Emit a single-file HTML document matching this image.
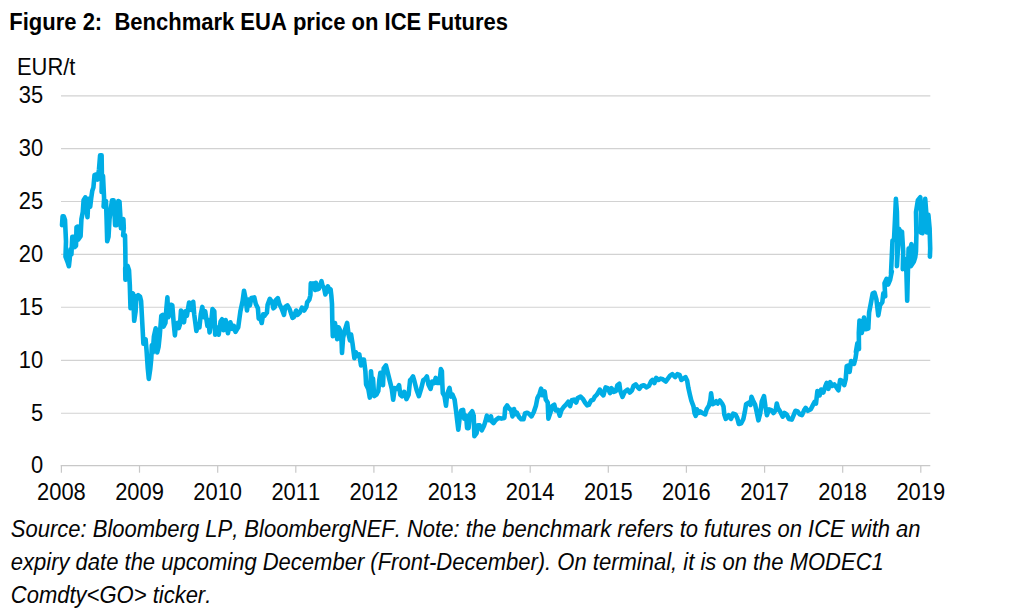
<!DOCTYPE html>
<html><head><meta charset="utf-8"><title>Figure 2</title>
<style>
html,body{margin:0;padding:0;background:#fff;}
body{width:1024px;height:615px;overflow:hidden;position:relative;font-family:"Liberation Sans",sans-serif;color:#050505;font-kerning:none;}
.t{position:absolute;white-space:nowrap;}
.t,#src span{transform:scaleY(1.07);transform-origin:50% 50%;}
#unit,.yl,.xl{transform:scaleY(1.09);transform-origin:50% 50%;}
#title{left:9.3px;top:10px;color:#000;font-size:22px;font-weight:bold;line-height:26px;}
#unit{left:17px;top:53.8px;font-size:21.9px;line-height:26px;}
.yl{position:absolute;left:0;width:43.2px;text-align:right;font-size:21.9px;line-height:26px;}
.xl{position:absolute;width:80px;text-align:center;font-size:21.9px;line-height:26px;top:478.7px;}
#src span{display:block;height:33px;}
#src{position:absolute;left:10.8px;top:511.5px;font-size:22px;font-style:italic;line-height:33px;white-space:nowrap;}
svg{position:absolute;left:0;top:0;}
</style></head><body>
<svg width="1024" height="615" viewBox="0 0 1024 615">
<g stroke="#d2d2d2" stroke-width="1.15" fill="none">
<line x1="61" y1="95.8" x2="930.3" y2="95.8"/>
<line x1="61" y1="148.65" x2="930.3" y2="148.65"/>
<line x1="61" y1="201.5" x2="930.3" y2="201.5"/>
<line x1="61" y1="254.4" x2="930.3" y2="254.4"/>
<line x1="61" y1="307.25" x2="930.3" y2="307.25"/>
<line x1="61" y1="360.4" x2="930.3" y2="360.4"/>
<line x1="61" y1="413.2" x2="930.3" y2="413.2"/>
</g>
<g stroke="#c8c8c8" stroke-width="1.2" fill="none">
<line x1="60.7" y1="465.65" x2="930.3" y2="465.65"/>
<line x1="61.4" y1="465.65" x2="61.4" y2="472.7"/>
<line x1="139.5" y1="465.65" x2="139.5" y2="472.7"/>
<line x1="217.7" y1="465.65" x2="217.7" y2="472.7"/>
<line x1="295.8" y1="465.65" x2="295.8" y2="472.7"/>
<line x1="373.9" y1="465.65" x2="373.9" y2="472.7"/>
<line x1="452.0" y1="465.65" x2="452.0" y2="472.7"/>
<line x1="530.2" y1="465.65" x2="530.2" y2="472.7"/>
<line x1="608.3" y1="465.65" x2="608.3" y2="472.7"/>
<line x1="686.4" y1="465.65" x2="686.4" y2="472.7"/>
<line x1="764.6" y1="465.65" x2="764.6" y2="472.7"/>
<line x1="842.7" y1="465.65" x2="842.7" y2="472.7"/>
<line x1="920.8" y1="465.65" x2="920.8" y2="472.7"/>
</g>
<path d="M62.0 225.2 L62.6 216.4 L63.8 216.4 L65.0 220.0 L66.0 241.3 L65.5 256.6 L67.5 261.8 L68.9 266.2 L69.7 258.9 L70.4 249.3 L71.4 254.4 L72.3 236.9 L73.8 236.9 L74.8 247.1 L76.0 245.7 L76.5 227.3 L77.7 226.6 L78.1 239.8 L80.6 236.1 L81.4 219.3 L82.8 212.0 L83.6 200.2 L85.3 197.3 L86.5 209.0 L87.5 217.1 L88.4 198.8 L90.2 206.8 L91.3 197.3 L92.3 190.7 L93.4 187.6 L94.5 175.2 L96.3 174.4 L97.5 179.6 L99.0 169.3 L100.1 155.4 L101.6 155.4 L101.9 175.2 L101.6 192.0 L103.0 175.9 L104.1 198.6 L103.6 206.7 L106.0 201.0 L106.6 219.3 L107.2 241.3 L108.5 236.9 L109.5 219.3 L110.7 209.0 L112.1 200.2 L113.6 200.2 L114.3 209.0 L115.1 225.2 L116.5 225.2 L117.3 209.0 L118.3 201.0 L119.5 201.7 L120.2 213.4 L120.9 228.1 L121.7 220.8 L123.4 219.3 L123.8 228.1 L123.1 235.4 L125.0 235.4 L125.3 248.6 L125.5 266.2 L125.2 268.8 L125.4 279.8 L126.8 279.0 L127.6 265.9 L129.0 270.2 L129.8 284.9 L130.5 308.3 L132.0 293.0 L133.1 293.7 L134.2 320.8 L135.6 311.3 L136.4 296.6 L138.1 295.2 L140.0 296.6 L141.1 301.0 L142.2 321.5 L143.4 343.7 L145.6 339.3 L146.6 351.0 L147.8 368.6 L148.8 378.9 L150.3 368.6 L151.3 358.3 L151.8 345.2 L152.8 352.5 L153.9 336.4 L155.7 328.3 L157.2 352.5 L158.6 346.6 L159.8 334.9 L161.3 315.9 L162.7 314.9 L163.5 326.6 L165.4 323.0 L166.4 308.3 L167.4 297.4 L168.3 317.1 L169.8 314.2 L170.8 304.7 L172.3 305.4 L173.7 323.0 L174.9 335.4 L175.9 324.4 L177.4 323.0 L178.8 328.1 L180.0 324.4 L181.0 310.5 L182.5 315.7 L184.0 322.3 L185.4 311.3 L186.9 315.7 L189.1 302.5 L191.3 309.8 L193.2 301.8 L194.2 314.2 L196.4 331.0 L197.9 324.4 L199.4 327.4 L200.8 314.2 L202.3 306.9 L203.8 317.1 L205.2 311.3 L207.4 325.9 L208.4 320.1 L209.6 332.5 L211.1 323.0 L212.5 309.1 L214.3 311.3 L215.2 334.7 L216.9 327.4 L218.7 334.7 L220.6 321.5 L222.1 319.3 L223.5 330.3 L225.7 320.1 L227.9 333.2 L230.4 322.3 L232.3 328.9 L233.8 325.9 L235.5 331.8 L238.2 327.4 L240.4 311.3 L242.6 301.0 L244.0 290.8 L245.5 298.1 L247.0 310.5 L248.4 299.6 L249.9 305.4 L251.4 298.1 L254.3 297.4 L255.8 303.9 L257.9 308.3 L258.7 318.6 L260.2 317.9 L261.7 323.0 L263.2 314.2 L264.6 315.7 L266.9 312.7 L267.6 304.7 L269.8 298.8 L272.0 301.8 L273.4 308.3 L274.9 306.9 L275.6 300.3 L277.8 298.1 L279.3 303.9 L281.5 308.3 L284.0 314.9 L285.2 306.9 L287.4 305.4 L289.6 309.1 L292.5 317.9 L293.9 317.1 L296.1 310.5 L297.6 314.9 L299.8 312.7 L302.0 307.6 L304.2 310.5 L306.4 306.9 L307.1 302.5 L309.3 299.6 L310.4 295.2 L310.8 283.4 L312.3 288.6 L313.3 283.4 L315.2 290.0 L315.9 282.7 L317.4 289.3 L318.9 288.6 L320.3 284.9 L321.5 281.2 L322.5 285.6 L324.0 287.8 L325.4 294.4 L326.9 288.6 L327.9 286.4 L329.1 291.5 L330.6 289.3 L331.3 295.2 L332.0 303.9 L332.3 321.5 L332.8 336.2 L334.2 334.7 L335.0 323.0 L336.1 330.3 L337.2 339.1 L338.6 327.4 L340.1 330.3 L341.6 342.0 L342.0 353.0 L343.1 337.6 L344.9 330.2 L347.1 322.9 L348.6 334.6 L350.0 340.5 L351.1 334.6 L352.5 343.4 L354.4 358.1 L355.9 352.2 L357.8 355.9 L359.3 354.4 L361.0 365.4 L362.5 359.6 L363.9 359.6 L365.4 371.3 L366.1 384.4 L368.3 388.9 L369.8 397.6 L371.0 371.3 L372.0 383.0 L373.0 378.6 L374.2 396.2 L376.4 394.7 L378.3 391.0 L379.3 380.1 L380.4 372.7 L381.8 375.7 L383.0 385.2 L383.7 368.3 L385.9 365.4 L387.4 371.3 L389.6 380.1 L391.8 388.9 L393.2 399.8 L394.7 388.1 L396.9 388.9 L399.1 385.2 L400.3 394.7 L402.0 396.2 L404.2 391.8 L406.4 399.1 L408.6 394.7 L410.1 380.1 L411.6 378.6 L413.0 376.4 L414.5 381.5 L416.7 390.3 L418.9 396.2 L421.1 388.9 L423.3 380.1 L425.5 378.6 L426.9 376.4 L428.4 384.4 L430.6 388.9 L432.1 381.5 L434.3 383.0 L435.7 377.9 L437.2 383.0 L439.4 383.0 L440.9 369.1 L441.9 371.3 L442.3 383.0 L442.8 393.2 L444.5 396.2 L446.0 405.7 L447.1 394.7 L447.3 393.7 L449.5 387.8 L451.0 396.6 L452.4 394.4 L454.6 399.6 L456.1 411.3 L457.3 421.5 L458.3 429.6 L459.8 417.1 L461.2 410.5 L463.1 409.8 L464.2 418.6 L466.1 415.7 L467.1 428.1 L468.6 428.1 L470.0 414.2 L472.2 411.3 L473.7 415.7 L474.4 436.2 L476.6 433.2 L477.8 425.2 L479.6 425.2 L481.8 430.3 L483.9 425.9 L485.4 421.5 L486.9 415.7 L489.1 420.1 L491.0 416.4 L492.0 421.5 L493.5 423.0 L495.7 420.1 L498.6 417.9 L501.5 418.6 L504.4 417.9 L505.2 408.3 L507.1 405.4 L508.9 408.3 L511.0 409.8 L512.5 416.4 L514.0 409.1 L515.4 414.2 L516.9 412.7 L519.1 417.1 L521.3 419.3 L523.5 419.3 L525.0 413.5 L527.2 412.7 L529.4 414.2 L531.5 416.4 L533.8 412.0 L536.0 405.4 L537.4 398.1 L539.6 393.7 L541.1 388.6 L542.5 395.2 L544.7 391.5 L545.8 399.6 L547.7 402.5 L548.4 418.6 L550.6 412.0 L552.1 406.1 L554.3 404.7 L555.7 410.5 L557.9 409.8 L559.8 415.7 L561.6 409.8 L563.8 406.9 L566.0 404.7 L568.2 401.8 L570.1 406.1 L571.8 400.3 L574.0 399.6 L576.2 402.5 L577.7 398.1 L580.6 396.6 L582.8 398.8 L585.0 402.5 L587.2 405.4 L588.8 404.9 L591.0 400.5 L593.2 399.8 L594.6 396.9 L596.9 394.7 L599.8 389.6 L602.0 393.9 L603.4 395.4 L605.6 387.4 L607.8 388.1 L610.0 393.2 L611.5 388.1 L613.7 391.8 L615.9 391.0 L617.4 385.2 L619.3 383.7 L620.3 391.0 L622.5 396.9 L624.7 391.8 L627.6 389.6 L629.8 392.5 L632.0 390.3 L633.5 385.9 L635.7 384.4 L637.9 387.4 L639.3 388.8 L641.5 385.9 L643.7 385.2 L646.6 387.4 L648.9 385.9 L651.0 381.5 L652.5 380.0 L654.4 383.0 L656.2 377.8 L658.4 380.0 L660.6 378.6 L662.8 379.3 L665.7 381.5 L667.9 378.6 L670.1 375.6 L672.3 374.2 L675.2 377.1 L677.4 374.2 L679.6 374.9 L681.4 380.0 L683.3 378.6 L685.5 377.1 L687.2 380.8 L688.4 388.1 L689.9 394.7 L691.3 400.5 L693.5 406.4 L694.5 413.0 L695.7 415.9 L696.9 409.3 L698.6 413.0 L700.1 411.5 L702.3 413.0 L705.2 414.4 L706.7 409.3 L708.9 405.7 L710.4 399.8 L711.1 393.2 L712.6 404.2 L714.0 403.5 L716.2 401.3 L717.7 403.5 L719.9 400.5 L722.1 403.5 L723.5 406.4 L724.3 414.4 L725.8 418.9 L728.0 416.6 L728.8 415.2 L731.0 418.9 L733.2 413.7 L735.4 414.4 L737.3 418.1 L738.8 424.0 L741.2 423.2 L743.4 418.9 L744.9 411.5 L746.1 404.2 L748.6 402.7 L750.5 404.9 L751.5 396.9 L753.0 400.5 L755.2 404.9 L756.6 411.5 L758.4 420.3 L760.3 413.0 L761.8 401.3 L764.0 396.1 L765.4 406.4 L766.9 415.2 L769.1 409.3 L771.3 410.1 L773.5 413.0 L775.7 410.1 L776.8 403.5 L777.9 407.9 L780.1 411.5 L782.7 416.6 L784.5 413.0 L786.6 414.4 L788.9 418.9 L791.8 419.6 L794.0 414.4 L795.4 410.8 L797.6 411.5 L799.8 414.4 L802.0 415.2 L804.2 410.1 L805.7 407.9 L807.9 410.8 L810.8 409.3 L813.0 404.9 L814.5 402.0 L816.0 403.5 L817.4 391.0 L819.6 395.4 L821.1 389.6 L823.3 392.5 L825.2 386.6 L826.6 383.0 L828.4 388.8 L830.2 382.2 L832.1 385.9 L834.3 384.4 L836.5 387.4 L838.4 390.3 L840.1 380.0 L842.3 380.8 L844.2 385.2 L845.7 379.3 L846.7 366.1 L848.6 365.4 L849.6 372.0 L851.1 361.0 L853.0 363.2 L854.0 363.9 L855.5 358.1 L856.5 351.5 L855.9 352.0 L857.4 343.2 L859.0 349.1 L858.8 333.0 L859.5 320.5 L861.8 333.0 L864.0 317.6 L865.7 329.3 L868.3 328.6 L869.1 312.5 L870.5 305.2 L872.7 293.4 L874.5 292.7 L876.4 299.3 L878.3 315.4 L880.1 305.2 L882.3 302.2 L883.3 293.4 L885.2 296.4 L884.5 283.2 L886.6 278.8 L888.1 284.6 L890.0 280.2 L891.8 271.5 L891.0 273.5 L891.8 255.9 L892.5 240.5 L894.0 239.8 L895.0 219.3 L895.9 198.8 L896.9 212.0 L897.3 233.9 L896.9 266.2 L898.4 241.3 L899.1 228.8 L900.6 232.5 L902.0 231.8 L903.2 251.5 L902.8 269.1 L905.0 258.9 L906.4 272.0 L907.2 300.8 L907.9 272.0 L908.6 248.6 L909.6 251.5 L911.5 244.2 L912.3 251.5 L910.8 266.2 L913.8 261.8 L915.2 257.4 L916.0 251.5 L916.4 233.9 L916.0 212.0 L917.9 200.2 L920.3 197.3 L921.1 212.0 L920.8 232.5 L922.5 233.2 L924.0 219.3 L925.2 198.8 L926.2 212.0 L926.9 232.5 L928.4 214.9 L929.6 228.1 L930.2 248.6 L929.9 256.6" fill="none" stroke="#00ade5" stroke-width="4.6" stroke-linejoin="round" stroke-linecap="round"/>
</svg>
<div class="t" id="title">Figure 2:&nbsp; Benchmark EUA price on ICE Futures</div>
<div class="t" id="unit">EUR/t</div>
<div class="yl" style="top:82.2px">35</div>
<div class="yl" style="top:135.1px">30</div>
<div class="yl" style="top:187.9px">25</div>
<div class="yl" style="top:240.8px">20</div>
<div class="yl" style="top:293.6px">15</div>
<div class="yl" style="top:346.8px">10</div>
<div class="yl" style="top:399.6px">5</div>
<div class="yl" style="top:452.3px">0</div>
<div class="xl" style="left:21.4px">2008</div>
<div class="xl" style="left:99.5px">2009</div>
<div class="xl" style="left:177.7px">2010</div>
<div class="xl" style="left:255.8px">2011</div>
<div class="xl" style="left:333.9px">2012</div>
<div class="xl" style="left:412.0px">2013</div>
<div class="xl" style="left:490.2px">2014</div>
<div class="xl" style="left:568.3px">2015</div>
<div class="xl" style="left:646.4px">2016</div>
<div class="xl" style="left:724.6px">2017</div>
<div class="xl" style="left:802.7px">2018</div>
<div class="xl" style="left:880.8px">2019</div>
<div id="src"><span>Source: Bloomberg LP, BloombergNEF. Note: the benchmark refers to futures on ICE with an</span><span>expiry date the upcoming December (Front-December). On terminal, it is on the MODEC1</span><span>Comdty&lt;GO&gt; ticker.</span></div>
</body></html>
